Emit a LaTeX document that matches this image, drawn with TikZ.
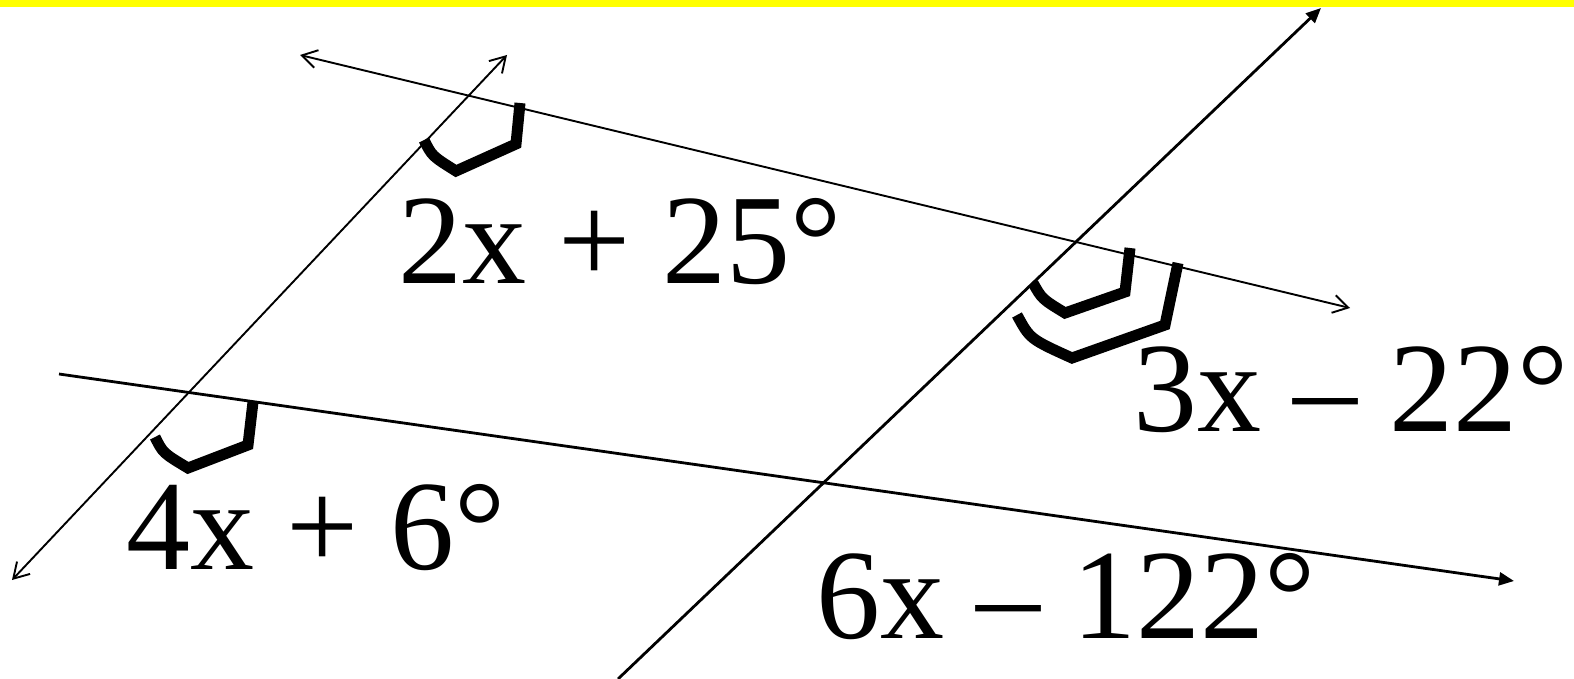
\documentclass[tikz,border=0pt]{standalone}
\usepackage{fontspec}
\setmainfont{Liberation Serif}
\usetikzlibrary{arrows.meta}
\definecolor{Banner}{HTML}{FFFF00}
\tikzset{thin line/.style={line width=1.9pt,{Straight Barb[length=15pt,width=18pt]}-{Straight Barb[length=15pt,width=18pt]}},bold line/.style={line width=2.8pt,-{Triangle[length=15pt,width=13pt]}},angle mark/.style={line width=11pt},angle label/.style={font=\fontsize{128}{128}\selectfont,anchor=base west,inner sep=0pt}}
\begin{document}
\begin{tikzpicture}[x=1pt,y=-1pt]
  \useasboundingbox (0,0) rectangle (1574,679);
  \fill[Banner] (0,0) rectangle (1574,7);
  % end points of the four lines
  \coordinate (topL) at (300,55);\coordinate (topR) at (1350,308);
  \coordinate (leftB) at (12,580);\coordinate (leftT) at (507,55);
  \coordinate (rightB) at (618,679);\coordinate (rightT) at (1321,8);
  \coordinate (botL) at (59,374);\coordinate (botR) at (1514,581);
  \draw[thin line](topL)--(topR);
  \draw[thin line](leftB)--(leftT);
  \draw[bold line](rightB)--(rightT);
  \draw[bold line](botL)--(botR);
  % angle marks
  \draw[angle mark](424,140) .. controls (432,156) .. (456,171) -- (516,144) -- (520,103);
  \draw[angle mark](1033,283) .. controls (1042,299) .. (1065,313) -- (1125,292) -- (1130,248);
  \draw[angle mark](1017,315) .. controls (1030,339) .. (1072,358) -- (1165,325) -- (1178,263);
  \draw[angle mark](155,437) .. controls (163,453) .. (188,468) -- (248,445) -- (253,402);
  % labels
  \node[angle label](lblA) at (398,283) {2x + 25°};
  \node[angle label](lblB) at (1133,431) {3x – 22°};
  \node[angle label](lblC) at (126,569) {4x + 6°};
  \node[angle label](lblD) at (816,638) {6x – 122°};
\end{tikzpicture}
\end{document}
